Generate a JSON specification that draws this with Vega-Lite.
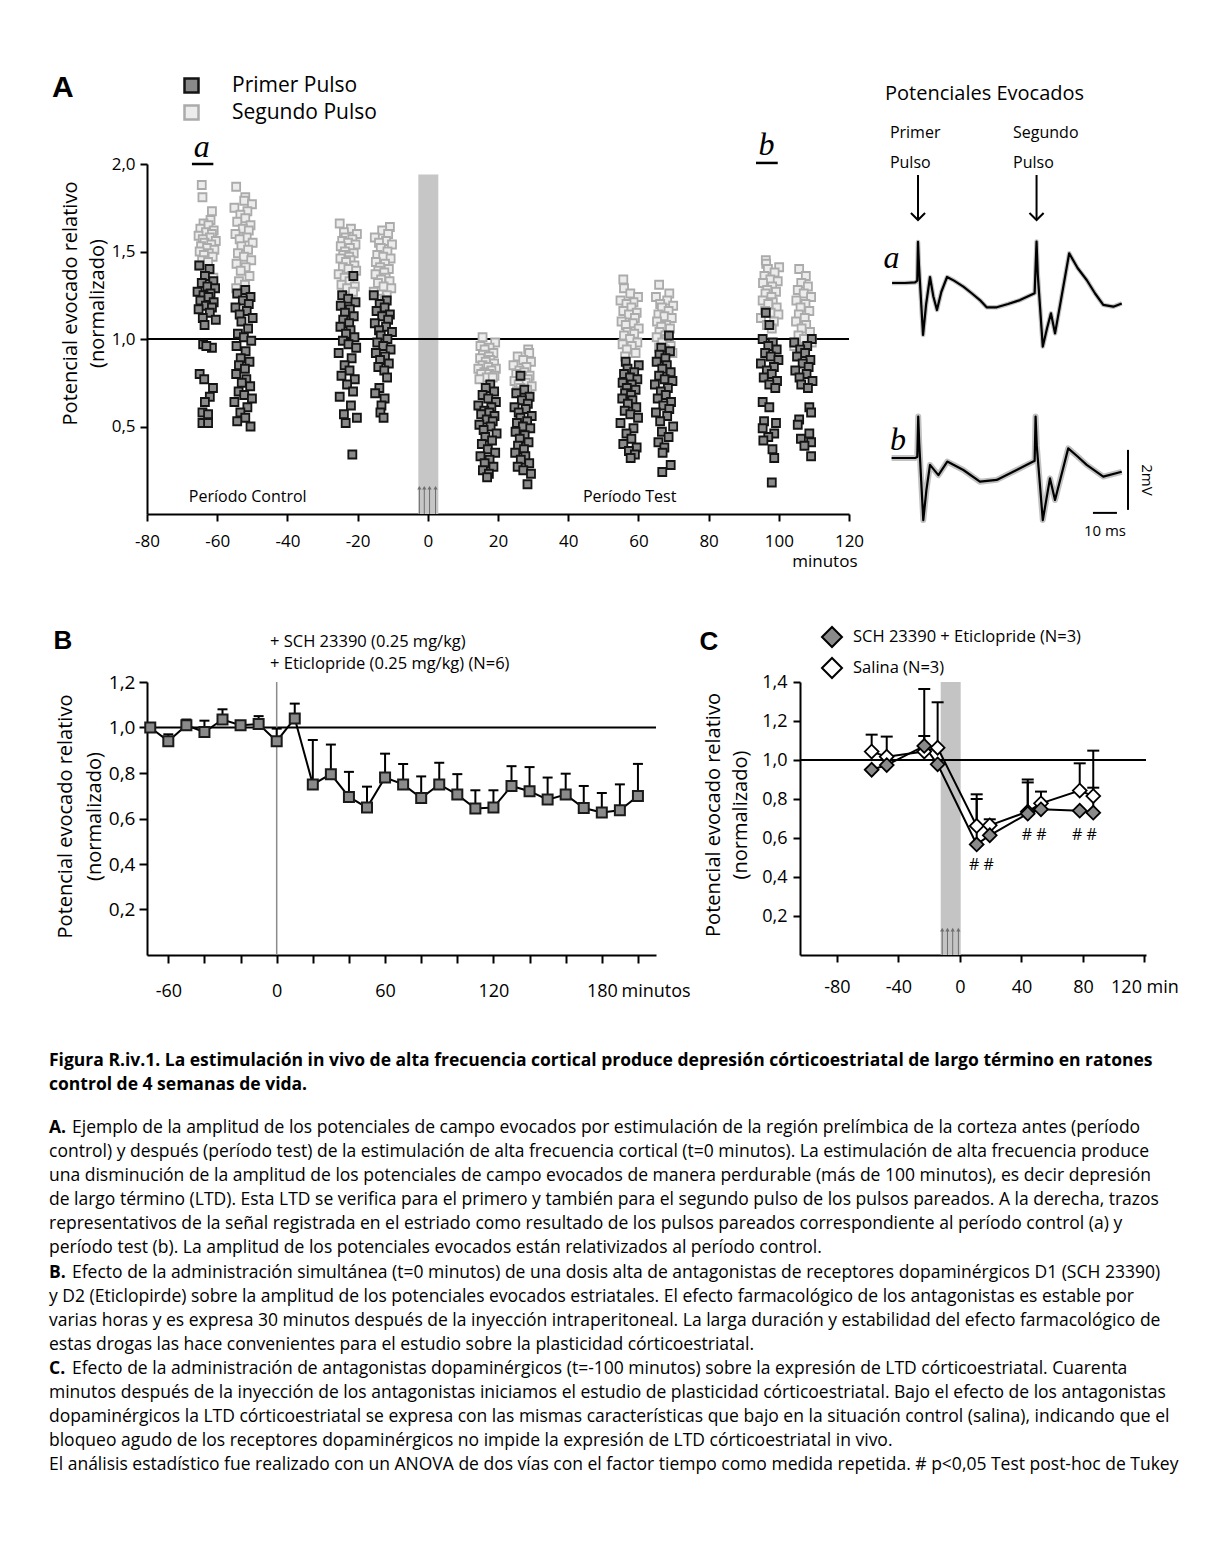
{
"$schema": "https://vega.github.io/schema/vega-lite/v6.json",
"autosize": {"type": "none"},
"padding": {"left": 147, "top": 164, "right": 1066, "bottom": 1383},
"background": "white",
"columns": 2,
"bounds": "flush",
"align": "all",
"spacing": {"row": 168, "column": 0},
"resolve": {"scale": {"fill": "independent", "stroke": "independent"}, "legend": {"fill": "independent", "stroke": "independent"}},
"config": {
 "view": {"stroke": null},
 "font": "Open Sans",
 "axis": {"grid": false, "domainColor": "black", "domainWidth": 2, "tickColor": "black", "tickWidth": 2, "labelColor": "black", "labelFont": "Open Sans", "titleFont": "Open Sans", "titleFontWeight": "normal", "titleColor": "black", "labelFlush": false, "labelOverlap": false},
 "legend": {"labelFont": "Open Sans", "labelColor": "black", "labelLimit": 400},
 "text": {"color": "black", "font": "Open Sans"}
},
"datasets": {
 "pri": [
{"t":-65.1,"v":1.42},{"t":-62.2,"v":1.40},{"t":-63.5,"v":1.36},{"t":-61.1,"v":1.33},{"t":-64.4,"v":1.32},{"t":-62.8,"v":1.30},{"t":-60.6,"v":1.29},{"t":-65.6,"v":1.27},{"t":-61.9,"v":1.26},{"t":-63.9,"v":1.25},{"t":-62.5,"v":1.24},{"t":-64.8,"v":1.22},{"t":-61.0,"v":1.21},{"t":-63.2,"v":1.19},{"t":-61.5,"v":1.18},{"t":-65.3,"v":1.17},{"t":-62.1,"v":1.15},{"t":-64.1,"v":1.12},{"t":-60.4,"v":1.11},{"t":-63.6,"v":1.08},{"t":-64.0,"v":0.97},{"t":-61.5,"v":0.95},{"t":-63.1,"v":0.96},{"t":-65.0,"v":0.80},{"t":-63.7,"v":0.77},{"t":-61.2,"v":0.72},{"t":-62.1,"v":0.67},{"t":-63.5,"v":0.64},{"t":-64.2,"v":0.58},{"t":-62.6,"v":0.57},{"t":-64.2,"v":0.52},{"t":-62.6,"v":0.52},
{"t":-52.0,"v":1.28},{"t":-54.3,"v":1.26},{"t":-50.5,"v":1.24},{"t":-52.7,"v":1.22},{"t":-51.0,"v":1.20},{"t":-54.8,"v":1.18},{"t":-51.6,"v":1.16},{"t":-53.6,"v":1.14},{"t":-49.9,"v":1.12},{"t":-53.1,"v":1.10},{"t":-51.2,"v":1.06},{"t":-54.1,"v":1.03},{"t":-52.4,"v":1.01},{"t":-50.3,"v":0.99},{"t":-54.5,"v":0.96},{"t":-51.9,"v":0.93},{"t":-53.3,"v":0.89},{"t":-50.8,"v":0.87},{"t":-53.8,"v":0.85},{"t":-52.1,"v":0.83},{"t":-54.6,"v":0.80},{"t":-51.7,"v":0.77},{"t":-53.0,"v":0.75},{"t":-50.6,"v":0.73},{"t":-53.9,"v":0.70},{"t":-52.3,"v":0.68},{"t":-50.1,"v":0.66},{"t":-55.1,"v":0.64},{"t":-51.4,"v":0.61},{"t":-53.4,"v":0.58},{"t":-52.0,"v":0.55},{"t":-54.3,"v":0.53},{"t":-50.5,"v":0.50},
{"t":-21.2,"v":1.36},{"t":-24.4,"v":1.25},{"t":-22.7,"v":1.23},{"t":-20.6,"v":1.21},{"t":-24.8,"v":1.19},{"t":-22.2,"v":1.17},{"t":-23.6,"v":1.15},{"t":-21.1,"v":1.13},{"t":-24.1,"v":1.11},{"t":-22.4,"v":1.09},{"t":-24.9,"v":1.07},{"t":-22.0,"v":1.05},{"t":-23.3,"v":1.03},{"t":-20.9,"v":1.01},{"t":-24.2,"v":0.99},{"t":-22.6,"v":0.97},{"t":-20.4,"v":0.95},{"t":-25.4,"v":0.92},{"t":-21.7,"v":0.89},{"t":-23.7,"v":0.85},{"t":-22.3,"v":0.82},{"t":-24.6,"v":0.79},{"t":-20.8,"v":0.77},{"t":-23.0,"v":0.74},{"t":-21.3,"v":0.70},{"t":-25.1,"v":0.67},{"t":-21.9,"v":0.62},{"t":-23.9,"v":0.57},{"t":-20.2,"v":0.55},{"t":-23.4,"v":0.52},{"t":-21.5,"v":0.34},
{"t":-15.4,"v":1.25},{"t":-11.7,"v":1.22},{"t":-13.7,"v":1.20},{"t":-12.3,"v":1.18},{"t":-14.6,"v":1.16},{"t":-10.8,"v":1.14},{"t":-13.0,"v":1.13},{"t":-11.3,"v":1.11},{"t":-15.1,"v":1.09},{"t":-11.9,"v":1.07},{"t":-13.9,"v":1.05},{"t":-10.2,"v":1.04},{"t":-13.4,"v":1.02},{"t":-11.5,"v":1.00},{"t":-14.4,"v":0.98},{"t":-12.7,"v":0.96},{"t":-10.6,"v":0.94},{"t":-14.8,"v":0.92},{"t":-12.2,"v":0.90},{"t":-13.6,"v":0.88},{"t":-11.1,"v":0.86},{"t":-14.1,"v":0.84},{"t":-12.4,"v":0.82},{"t":-11.6,"v":0.78},{"t":-13.8,"v":0.72},{"t":-15.0,"v":0.69},{"t":-12.3,"v":0.66},{"t":-13.2,"v":0.62},{"t":-13.5,"v":0.58},{"t":-12.6,"v":0.55},
{"t":17.8,"v":0.74},{"t":16.5,"v":0.72},{"t":18.9,"v":0.70},{"t":15.6,"v":0.68},{"t":17.2,"v":0.66},{"t":19.4,"v":0.64},{"t":14.4,"v":0.62},{"t":18.1,"v":0.61},{"t":16.1,"v":0.59},{"t":17.5,"v":0.58},{"t":15.2,"v":0.57},{"t":19.0,"v":0.56},{"t":16.8,"v":0.54},{"t":18.5,"v":0.53},{"t":14.7,"v":0.51},{"t":17.9,"v":0.50},{"t":15.9,"v":0.48},{"t":19.6,"v":0.46},{"t":16.4,"v":0.44},{"t":18.3,"v":0.42},{"t":15.4,"v":0.40},{"t":17.1,"v":0.37},{"t":19.2,"v":0.35},{"t":15.0,"v":0.33},{"t":17.6,"v":0.31},{"t":16.2,"v":0.29},{"t":18.7,"v":0.27},{"t":15.7,"v":0.25},{"t":17.4,"v":0.23},{"t":16.9,"v":0.21},
{"t":26.4,"v":0.79},{"t":27.5,"v":0.71},{"t":25.2,"v":0.69},{"t":29.0,"v":0.67},{"t":26.8,"v":0.65},{"t":28.5,"v":0.63},{"t":24.7,"v":0.61},{"t":27.9,"v":0.60},{"t":25.9,"v":0.58},{"t":29.6,"v":0.56},{"t":26.4,"v":0.55},{"t":28.3,"v":0.53},{"t":25.4,"v":0.52},{"t":27.1,"v":0.50},{"t":29.2,"v":0.49},{"t":25.0,"v":0.47},{"t":27.6,"v":0.45},{"t":26.2,"v":0.43},{"t":28.7,"v":0.41},{"t":25.7,"v":0.39},{"t":27.4,"v":0.37},{"t":24.9,"v":0.35},{"t":27.8,"v":0.33},{"t":26.5,"v":0.31},{"t":28.9,"v":0.29},{"t":25.6,"v":0.27},{"t":27.2,"v":0.25},{"t":29.4,"v":0.23},{"t":28.4,"v":0.17},
{"t":56.4,"v":0.87},{"t":60.1,"v":0.85},{"t":56.9,"v":0.83},{"t":58.8,"v":0.81},{"t":55.9,"v":0.80},{"t":57.6,"v":0.78},{"t":59.7,"v":0.77},{"t":55.5,"v":0.75},{"t":58.1,"v":0.74},{"t":56.7,"v":0.72},{"t":59.2,"v":0.71},{"t":56.2,"v":0.69},{"t":57.9,"v":0.68},{"t":55.4,"v":0.66},{"t":58.3,"v":0.65},{"t":57.0,"v":0.63},{"t":59.4,"v":0.61},{"t":56.1,"v":0.59},{"t":57.7,"v":0.57},{"t":59.9,"v":0.55},{"t":54.9,"v":0.52},{"t":58.6,"v":0.49},{"t":56.6,"v":0.46},{"t":58.0,"v":0.43},{"t":55.7,"v":0.40},{"t":59.5,"v":0.38},{"t":57.3,"v":0.36},{"t":59.0,"v":0.34},{"t":57.8,"v":0.32},
{"t":68.7,"v":1.02},{"t":66.5,"v":0.95},{"t":69.0,"v":0.93},{"t":66.0,"v":0.91},{"t":67.7,"v":0.89},{"t":65.2,"v":0.87},{"t":68.1,"v":0.85},{"t":66.8,"v":0.83},{"t":69.2,"v":0.81},{"t":65.9,"v":0.79},{"t":67.5,"v":0.77},{"t":69.7,"v":0.76},{"t":64.7,"v":0.74},{"t":68.4,"v":0.72},{"t":66.4,"v":0.70},{"t":67.8,"v":0.68},{"t":65.5,"v":0.66},{"t":69.3,"v":0.64},{"t":67.1,"v":0.62},{"t":68.8,"v":0.60},{"t":65.0,"v":0.58},{"t":68.2,"v":0.56},{"t":66.2,"v":0.53},{"t":69.9,"v":0.50},{"t":66.7,"v":0.47},{"t":68.6,"v":0.44},{"t":65.7,"v":0.41},{"t":67.4,"v":0.38},{"t":66.9,"v":0.35},{"t":69.2,"v":0.28},{"t":66.8,"v":0.24},
{"t":96.3,"v":1.15},{"t":97.3,"v":1.08},{"t":95.4,"v":1.00},{"t":98.3,"v":0.98},{"t":97.0,"v":0.96},{"t":99.4,"v":0.94},{"t":96.1,"v":0.92},{"t":97.7,"v":0.90},{"t":99.9,"v":0.88},{"t":94.9,"v":0.86},{"t":98.6,"v":0.84},{"t":96.6,"v":0.82},{"t":98.0,"v":0.80},{"t":95.7,"v":0.78},{"t":99.5,"v":0.76},{"t":97.3,"v":0.74},{"t":99.0,"v":0.72},{"t":95.4,"v":0.64},{"t":97.3,"v":0.61},{"t":95.8,"v":0.53},{"t":99.2,"v":0.52},{"t":95.4,"v":0.49},{"t":98.7,"v":0.46},{"t":97.0,"v":0.44},{"t":95.6,"v":0.42},{"t":98.2,"v":0.37},{"t":98.7,"v":0.32},{"t":98.0,"v":0.18},
{"t":109.4,"v":1.00},{"t":104.4,"v":0.98},{"t":108.1,"v":0.96},{"t":106.1,"v":0.94},{"t":107.5,"v":0.92},{"t":105.2,"v":0.90},{"t":109.0,"v":0.88},{"t":106.8,"v":0.86},{"t":108.5,"v":0.84},{"t":104.7,"v":0.82},{"t":107.9,"v":0.80},{"t":105.9,"v":0.78},{"t":109.6,"v":0.76},{"t":106.4,"v":0.74},{"t":108.3,"v":0.72},{"t":108.7,"v":0.61},{"t":109.2,"v":0.58},{"t":105.8,"v":0.54},{"t":105.4,"v":0.51},{"t":108.7,"v":0.46},{"t":106.3,"v":0.43},{"t":109.2,"v":0.41},{"t":107.3,"v":0.39},{"t":109.2,"v":0.33}
 ],
 "seg": [
{"t":-64.4,"v":1.88},{"t":-64.2,"v":1.81},{"t":-61.5,"v":1.73},{"t":-61.9,"v":1.68},{"t":-63.9,"v":1.66},{"t":-62.5,"v":1.65},{"t":-64.8,"v":1.63},{"t":-61.0,"v":1.62},{"t":-63.2,"v":1.61},{"t":-61.5,"v":1.60},{"t":-65.3,"v":1.59},{"t":-62.1,"v":1.58},{"t":-64.1,"v":1.57},{"t":-60.4,"v":1.56},{"t":-63.6,"v":1.55},{"t":-61.7,"v":1.54},{"t":-64.6,"v":1.53},{"t":-62.9,"v":1.52},{"t":-60.8,"v":1.51},{"t":-65.0,"v":1.50},{"t":-62.4,"v":1.49},{"t":-63.8,"v":1.48},{"t":-61.3,"v":1.47},{"t":-64.3,"v":1.45},{"t":-62.6,"v":1.44},{"t":-65.1,"v":1.42},{"t":-62.2,"v":1.40},{"t":-63.5,"v":1.38},{"t":-61.1,"v":1.35},
{"t":-54.6,"v":1.87},{"t":-52.0,"v":1.81},{"t":-52.3,"v":1.79},{"t":-50.1,"v":1.77},{"t":-55.1,"v":1.75},{"t":-51.4,"v":1.73},{"t":-53.4,"v":1.71},{"t":-52.0,"v":1.69},{"t":-54.3,"v":1.67},{"t":-50.5,"v":1.65},{"t":-52.7,"v":1.63},{"t":-51.0,"v":1.62},{"t":-54.8,"v":1.60},{"t":-51.6,"v":1.58},{"t":-53.6,"v":1.57},{"t":-49.9,"v":1.55},{"t":-53.1,"v":1.53},{"t":-51.2,"v":1.51},{"t":-54.1,"v":1.49},{"t":-52.4,"v":1.47},{"t":-50.3,"v":1.45},{"t":-54.5,"v":1.43},{"t":-51.9,"v":1.41},{"t":-53.3,"v":1.39},{"t":-50.8,"v":1.36},{"t":-53.8,"v":1.33},{"t":-52.1,"v":1.31},{"t":-54.6,"v":1.29},
{"t":-25.1,"v":1.66},{"t":-21.9,"v":1.63},{"t":-23.9,"v":1.61},{"t":-20.2,"v":1.60},{"t":-23.4,"v":1.58},{"t":-21.5,"v":1.57},{"t":-24.4,"v":1.56},{"t":-22.7,"v":1.55},{"t":-20.6,"v":1.54},{"t":-24.8,"v":1.53},{"t":-22.2,"v":1.52},{"t":-23.6,"v":1.50},{"t":-21.1,"v":1.49},{"t":-24.1,"v":1.48},{"t":-22.4,"v":1.47},{"t":-24.9,"v":1.46},{"t":-22.0,"v":1.45},{"t":-23.3,"v":1.44},{"t":-20.9,"v":1.42},{"t":-24.2,"v":1.41},{"t":-22.6,"v":1.40},{"t":-20.4,"v":1.39},{"t":-25.4,"v":1.37},{"t":-21.7,"v":1.36},{"t":-23.7,"v":1.35},{"t":-22.3,"v":1.33},{"t":-24.6,"v":1.31},{"t":-20.8,"v":1.30},{"t":-23.0,"v":1.29},{"t":-21.3,"v":1.27},
{"t":-10.8,"v":1.64},{"t":-13.0,"v":1.62},{"t":-11.3,"v":1.60},{"t":-15.1,"v":1.58},{"t":-11.9,"v":1.56},{"t":-13.9,"v":1.55},{"t":-10.2,"v":1.54},{"t":-13.4,"v":1.52},{"t":-11.5,"v":1.50},{"t":-14.4,"v":1.48},{"t":-12.7,"v":1.47},{"t":-10.6,"v":1.46},{"t":-14.8,"v":1.44},{"t":-12.2,"v":1.43},{"t":-13.6,"v":1.41},{"t":-11.1,"v":1.40},{"t":-14.1,"v":1.39},{"t":-12.4,"v":1.38},{"t":-14.9,"v":1.37},{"t":-12.0,"v":1.35},{"t":-13.3,"v":1.34},{"t":-10.9,"v":1.33},{"t":-14.2,"v":1.32},{"t":-12.6,"v":1.30},{"t":-10.4,"v":1.29},{"t":-15.4,"v":1.27},{"t":-11.7,"v":1.25},{"t":-13.7,"v":1.23},{"t":-12.3,"v":1.22},
{"t":15.6,"v":1.01},{"t":19.2,"v":0.98},{"t":15.0,"v":0.96},{"t":17.6,"v":0.95},{"t":16.2,"v":0.94},{"t":18.7,"v":0.92},{"t":15.7,"v":0.91},{"t":17.4,"v":0.90},{"t":14.9,"v":0.89},{"t":17.8,"v":0.88},{"t":16.5,"v":0.87},{"t":18.9,"v":0.86},{"t":15.6,"v":0.85},{"t":17.2,"v":0.84},{"t":19.4,"v":0.83},{"t":14.4,"v":0.83},{"t":18.1,"v":0.82},{"t":16.1,"v":0.81},{"t":17.5,"v":0.80},{"t":15.2,"v":0.80},{"t":19.0,"v":0.79},{"t":16.8,"v":0.78},{"t":18.5,"v":0.78},{"t":14.7,"v":0.77},
{"t":28.6,"v":0.94},{"t":28.9,"v":0.92},{"t":25.6,"v":0.90},{"t":27.2,"v":0.88},{"t":29.4,"v":0.87},{"t":24.4,"v":0.85},{"t":28.1,"v":0.84},{"t":26.1,"v":0.82},{"t":27.5,"v":0.81},{"t":25.2,"v":0.80},{"t":29.0,"v":0.79},{"t":26.8,"v":0.78},{"t":28.5,"v":0.77},{"t":24.7,"v":0.76},{"t":27.9,"v":0.75},{"t":25.9,"v":0.74},{"t":29.6,"v":0.73},{"t":26.4,"v":0.72},{"t":28.3,"v":0.71},{"t":25.4,"v":0.70},
{"t":55.7,"v":1.34},{"t":55.9,"v":1.29},{"t":57.7,"v":1.26},{"t":59.9,"v":1.24},{"t":54.9,"v":1.22},{"t":58.6,"v":1.21},{"t":56.6,"v":1.20},{"t":58.0,"v":1.18},{"t":55.7,"v":1.16},{"t":59.5,"v":1.15},{"t":57.3,"v":1.14},{"t":59.0,"v":1.12},{"t":55.2,"v":1.10},{"t":58.4,"v":1.09},{"t":56.4,"v":1.08},{"t":60.1,"v":1.06},{"t":56.9,"v":1.04},{"t":58.8,"v":1.03},{"t":55.9,"v":1.02},{"t":57.6,"v":1.00},{"t":59.7,"v":0.98},{"t":55.5,"v":0.97},{"t":58.1,"v":0.96},{"t":56.7,"v":0.94},{"t":59.2,"v":0.92},{"t":56.2,"v":0.90},
{"t":65.9,"v":1.31},{"t":68.8,"v":1.26},{"t":65.0,"v":1.24},{"t":68.2,"v":1.22},{"t":66.2,"v":1.20},{"t":69.9,"v":1.19},{"t":66.7,"v":1.18},{"t":68.6,"v":1.16},{"t":65.7,"v":1.14},{"t":67.4,"v":1.13},{"t":69.5,"v":1.12},{"t":65.3,"v":1.10},{"t":67.9,"v":1.08},{"t":66.5,"v":1.07},{"t":69.0,"v":1.06},{"t":66.0,"v":1.04},{"t":67.7,"v":1.02},{"t":65.2,"v":1.01},{"t":68.1,"v":1.00},{"t":66.8,"v":0.98},{"t":69.2,"v":0.96},{"t":65.9,"v":0.95},{"t":67.5,"v":0.94},{"t":69.7,"v":0.92},
{"t":96.3,"v":1.45},{"t":96.4,"v":1.43},{"t":100.1,"v":1.41},{"t":96.9,"v":1.40},{"t":98.8,"v":1.38},{"t":95.9,"v":1.36},{"t":97.6,"v":1.34},{"t":99.7,"v":1.33},{"t":95.5,"v":1.32},{"t":98.1,"v":1.30},{"t":96.7,"v":1.28},{"t":99.2,"v":1.27},{"t":96.2,"v":1.26},{"t":97.9,"v":1.24},{"t":95.4,"v":1.22},{"t":98.3,"v":1.21},{"t":97.0,"v":1.20},{"t":99.4,"v":1.18},{"t":96.1,"v":1.16},{"t":97.7,"v":1.15},{"t":99.9,"v":1.14},{"t":94.9,"v":1.12},{"t":98.6,"v":1.10},{"t":96.6,"v":1.08},{"t":98.0,"v":1.06},
{"t":105.8,"v":1.40},{"t":107.7,"v":1.36},{"t":106.4,"v":1.32},{"t":108.3,"v":1.30},{"t":105.4,"v":1.28},{"t":107.1,"v":1.26},{"t":109.2,"v":1.24},{"t":105.0,"v":1.22},{"t":107.6,"v":1.20},{"t":106.2,"v":1.18},{"t":108.7,"v":1.16},{"t":105.7,"v":1.14},{"t":107.4,"v":1.12},{"t":104.9,"v":1.10},{"t":107.8,"v":1.08},{"t":106.5,"v":1.06},{"t":108.9,"v":1.04},{"t":105.6,"v":1.02},{"t":107.2,"v":1.00},{"t":109.4,"v":0.98},{"t":104.4,"v":0.96}
 ],
 "ta": [{"t":-10.8,"v":0},{"t":-5.4,"v":0},{"t":-1.2,"v":0.02},{"t":-0.3,"v":0.08},{"t":0,"v":1.37},{"t":0.4,"v":0.6},{"t":2.1,"v":-1.73},{"t":3.4,"v":-0.7},{"t":5.0,"v":0.2},{"t":6.4,"v":-0.45},{"t":7.9,"v":-0.9},{"t":9.7,"v":-0.3},{"t":12.1,"v":0.2},{"t":15.0,"v":0.08},{"t":18.9,"v":-0.12},{"t":22.5,"v":-0.35},{"t":25.8,"v":-0.57},{"t":28.6,"v":-0.81},{"t":32.8,"v":-0.81},{"t":37.5,"v":-0.7},{"t":42.5,"v":-0.57},{"t":48.6,"v":-0.34},{"t":49.4,"v":1.38},{"t":49.9,"v":0.3},{"t":52.0,"v":-2.12},{"t":53.8,"v":-1.5},{"t":55.4,"v":-1.01},{"t":57.1,"v":-1.68},{"t":59.5,"v":-0.6},{"t":63.0,"v":0.99},{"t":66.5,"v":0.5},{"t":70.3,"v":0.1},{"t":73.8,"v":-0.35},{"t":77.2,"v":-0.73},{"t":81.4,"v":-0.79},{"t":84.9,"v":-0.68}],
 "tb": [{"t":-11.0,"v":0},{"t":-1.2,"v":0},{"t":-0.3,"v":0.03},{"t":0.1,"v":1.38},{"t":0.5,"v":0.5},{"t":2.2,"v":-2.07},{"t":3.5,"v":-1.07},{"t":5.0,"v":-0.23},{"t":8.5,"v":-0.57},{"t":12.2,"v":-0.12},{"t":18.9,"v":-0.4},{"t":25.8,"v":-0.79},{"t":32.8,"v":-0.73},{"t":41.1,"v":-0.4},{"t":48.0,"v":-0.12},{"t":48.6,"v":-0.1},{"t":49.0,"v":1.38},{"t":49.5,"v":0.4},{"t":52.0,"v":-2.07},{"t":55.0,"v":-0.68},{"t":57.1,"v":-1.4},{"t":62.6,"v":0.32},{"t":66.5,"v":0.05},{"t":70.3,"v":-0.23},{"t":77.2,"v":-0.62},{"t":84.9,"v":-0.46}],
 "b": [{"t":-70,"v":1.0},{"t":-60,"v":0.94,"hi":0.97},{"t":-50,"v":1.01,"hi":1.035},{"t":-40,"v":0.98,"hi":1.03},{"t":-30,"v":1.035,"hi":1.08},{"t":-20,"v":1.01},{"t":-10,"v":1.015,"hi":1.05},{"t":0,"v":0.94,"hi":0.995},{"t":10,"v":1.04,"hi":1.105},{"t":20,"v":0.75,"hi":0.945},{"t":30,"v":0.795,"hi":0.925},{"t":40,"v":0.695,"hi":0.805},{"t":50,"v":0.648,"hi":0.74},{"t":60,"v":0.78,"hi":0.885},{"t":70,"v":0.75,"hi":0.84},{"t":80,"v":0.69,"hi":0.785},{"t":90,"v":0.75,"hi":0.845},{"t":100,"v":0.705,"hi":0.795},{"t":110,"v":0.644,"hi":0.724},{"t":120,"v":0.648,"hi":0.724},{"t":130,"v":0.743,"hi":0.83},{"t":140,"v":0.72,"hi":0.826},{"t":150,"v":0.683,"hi":0.78},{"t":160,"v":0.705,"hi":0.797},{"t":170,"v":0.646,"hi":0.743},{"t":180,"v":0.626,"hi":0.712},{"t":190,"v":0.636,"hi":0.75},{"t":200,"v":0.699,"hi":0.84}],
 "c": [
{"g":"Salina (N=3)","t":-57.4,"v":1.043,"hi":1.13},{"g":"Salina (N=3)","t":-47.6,"v":1.017,"hi":1.12},{"g":"Salina (N=3)","t":-23.2,"v":1.043,"hi":1.123},{"g":"Salina (N=3)","t":-14.5,"v":1.063,"hi":1.296},{"g":"Salina (N=3)","t":10.9,"v":0.662,"hi":0.824},{"g":"Salina (N=3)","t":19.4,"v":0.665,"hi":0.696},{"g":"Salina (N=3)","t":44.1,"v":0.735,"hi":0.9},{"g":"Salina (N=3)","t":52.7,"v":0.778,"hi":0.838},{"g":"Salina (N=3)","t":77.9,"v":0.843,"hi":0.983},{"g":"Salina (N=3)","t":86.7,"v":0.815,"hi":1.048},
{"g":"SCH 23390 + Eticlopride (N=3)","t":-57.4,"v":0.95},{"g":"SCH 23390 + Eticlopride (N=3)","t":-47.6,"v":0.974},{"g":"SCH 23390 + Eticlopride (N=3)","t":-23.2,"v":1.072,"hi":1.364},{"g":"SCH 23390 + Eticlopride (N=3)","t":-14.5,"v":0.978},{"g":"SCH 23390 + Eticlopride (N=3)","t":10.9,"v":0.567,"hi":0.8},{"g":"SCH 23390 + Eticlopride (N=3)","t":19.4,"v":0.614},{"g":"SCH 23390 + Eticlopride (N=3)","t":44.1,"v":0.725,"hi":0.885},{"g":"SCH 23390 + Eticlopride (N=3)","t":52.7,"v":0.747},{"g":"SCH 23390 + Eticlopride (N=3)","t":77.9,"v":0.74},{"g":"SCH 23390 + Eticlopride (N=3)","t":86.7,"v":0.73,"hi":0.858}
 ],
 "cap": [
{"linea":1,"tipo":"titulo","txt":"Figura R.iv.1. La estimulación in vivo de alta frecuencia cortical produce depresión córticoestriatal de largo término en ratones"},
{"linea":2,"tipo":"titulo","txt":"control de 4 semanas de vida."},
{"linea":3.78,"tipo":"cuerpo","pre":"A.","txt":"Ejemplo de la amplitud de los potenciales de campo evocados por estimulación de la región prelímbica de la corteza antes (período"},
{"linea":4.78,"tipo":"cuerpo","txt":"control) y después (período test) de la estimulación de alta frecuencia cortical (t=0 minutos). La estimulación de alta frecuencia produce"},
{"linea":5.78,"tipo":"cuerpo","txt":"una disminución de la amplitud de los potenciales de campo evocados de manera perdurable (más de 100 minutos), es decir depresión"},
{"linea":6.78,"tipo":"cuerpo","txt":"de largo término (LTD). Esta LTD se verifica para el primero y también para el segundo pulso de los pulsos pareados. A la derecha, trazos"},
{"linea":7.78,"tipo":"cuerpo","txt":"representativos de la señal registrada en el estriado como resultado de los pulsos pareados correspondiente al período control (a) y"},
{"linea":8.78,"tipo":"cuerpo","txt":"período test (b). La amplitud de los potenciales evocados están relativizados al período control."},
{"linea":9.78,"tipo":"cuerpo","pre":"B.","txt":"Efecto de la administración simultánea (t=0 minutos) de una dosis alta de antagonistas de receptores dopaminérgicos D1 (SCH 23390)"},
{"linea":10.78,"tipo":"cuerpo","txt":"y D2 (Eticlopirde) sobre la amplitud de los potenciales evocados estriatales. El efecto farmacológico de los antagonistas es estable por"},
{"linea":11.78,"tipo":"cuerpo","txt":"varias horas y es expresa 30 minutos después de la inyección intraperitoneal. La larga duración y estabilidad del efecto farmacológico de"},
{"linea":12.78,"tipo":"cuerpo","txt":"estas drogas las hace convenientes para el estudio sobre la plasticidad córticoestriatal."},
{"linea":13.78,"tipo":"cuerpo","pre":"C.","txt":"Efecto de la administración de antagonistas dopaminérgicos (t=-100 minutos) sobre la expresión de LTD córticoestriatal. Cuarenta"},
{"linea":14.78,"tipo":"cuerpo","txt":"minutos después de la inyección de los antagonistas iniciamos el estudio de plasticidad córticoestriatal. Bajo el efecto de los antagonistas"},
{"linea":15.78,"tipo":"cuerpo","txt":"dopaminérgicos la LTD córticoestriatal se expresa con las mismas características que bajo en la situación control (salina), indicando que el"},
{"linea":16.78,"tipo":"cuerpo","txt":"bloqueo agudo de los receptores dopaminérgicos no impide la expresión de LTD córticoestriatal in vivo."},
{"linea":17.78,"tipo":"cuerpo","txt":"El análisis estadístico fue realizado con un ANOVA de dos vías con el factor tiempo como medida repetida. # p<0,05 Test post-hoc de Tukey"}
 ]
},
"concat": [
 {
  "width": 653, "height": 350,
  "encoding": {
   "x": {"field": "t", "type": "quantitative", "scale": {"domain": [-80, 120], "range": [0, 702], "nice": false, "zero": false},
    "axis": {"values": [-80,-60,-40,-20,0,20,40,60,80,100,120], "labelExpr": "replace(datum.label, '−', '-')", "labelFontSize": 17, "labelPadding": 12, "tickSize": 7, "title": "minutos", "titleFontSize": 17, "titleX": 710, "titleY": 47, "titleAlign": "right", "titleBaseline": "middle"}},
   "y": {"field": "v", "type": "quantitative", "scale": {"domain": [0, 2], "nice": false, "zero": false},
    "axis": {"values": [0.5, 1, 1.5, 2], "labelExpr": "replace(format(datum.value, '.1f'), '.', ',')", "labelFontSize": 17, "labelPadding": 5, "tickSize": 7, "title": ["Potencial evocado relativo", "(normalizado)"], "titleFontSize": 20, "titleLineHeight": 27, "titleX": -77, "titleY": 139, "titleAngle": 270, "titleAlign": "center", "titleBaseline": "middle"}}
  },
  "layer": [
   {"data": {"values": [{"t": -2.7, "t2": 3.0, "v": 0, "v2": 1.94}]}, "mark": {"type": "rect", "color": "#c6c6c6"}, "encoding": {"x2": {"field": "t2"}, "y2": {"field": "v2"}}},
   {"data": {"values": [{"t": -2.4, "v": 0, "v2": 0.15}, {"t": -1.0, "v": 0, "v2": 0.15}, {"t": 0.5, "v": 0, "v2": 0.15}, {"t": 2.2, "v": 0, "v2": 0.15}]}, "mark": {"type": "rule", "color": "#6e6e6e", "strokeWidth": 1}, "encoding": {"y2": {"field": "v2"}}},
   {"data": {"values": [{"t": -2.4, "v2": 0.15}, {"t": -1.0, "v2": 0.15}, {"t": 0.5, "v2": 0.15}, {"t": 2.2, "v2": 0.15}]}, "mark": {"type": "point", "shape": "triangle-up", "size": 18, "filled": true, "color": "#6e6e6e", "opacity": 1}, "encoding": {"y": {"field": "v2", "type": "quantitative"}}},
   {"data": {"values": [{"t": -80, "t2": 120, "v": 1}]}, "mark": {"type": "rule", "color": "black", "strokeWidth": 2}, "encoding": {"x2": {"field": "t2"}}},
   {"data": {"name": "seg"}, "mark": {"type": "point", "shape": "square", "size": 64, "filled": true, "strokeWidth": 1.8, "opacity": 1},
    "encoding": {
     "fill": {"datum": "Segundo Pulso", "type": "nominal", "scale": {"domain": ["Primer Pulso", "Segundo Pulso"], "range": ["#8a8a8a", "#ececec"]}, "legend": {"title": null, "orient": "none", "legendX": 34, "legendY": -89, "symbolType": "square", "symbolSize": 196, "symbolStrokeWidth": 2.5, "labelFontSize": 21, "labelOffset": 30, "rowPadding": 2, "padding": 0}},
     "stroke": {"datum": "Segundo Pulso", "type": "nominal", "scale": {"domain": ["Primer Pulso", "Segundo Pulso"], "range": ["#141414", "#ababab"]}, "legend": {"title": null, "orient": "none", "legendX": 34, "legendY": -89, "symbolType": "square", "symbolSize": 196, "symbolStrokeWidth": 2.5, "labelFontSize": 21, "labelOffset": 30, "rowPadding": 2, "padding": 0}}
    }},
   {"data": {"name": "pri"}, "mark": {"type": "point", "shape": "square", "size": 64, "filled": true, "strokeWidth": 1.8, "opacity": 1},
    "encoding": {
     "fill": {"datum": "Primer Pulso", "type": "nominal", "scale": {"domain": ["Primer Pulso", "Segundo Pulso"], "range": ["#8a8a8a", "#ececec"]}},
     "stroke": {"datum": "Primer Pulso", "type": "nominal", "scale": {"domain": ["Primer Pulso", "Segundo Pulso"], "range": ["#141414", "#ababab"]}}
    }},
   {"data": {"values": [{"t": -51.3, "v": 0.099, "txt": "Período Control"}, {"t": 57.5, "v": 0.099, "txt": "Período Test"}]}, "mark": {"type": "text", "fontSize": 16, "align": "center", "baseline": "middle"}, "encoding": {"text": {"field": "txt"}}},
   {"data": {"values": [{"t": -64.4, "v": 2.042, "txt": "a"}, {"t": 96.5, "v": 2.05, "txt": "b"}]}, "mark": {"type": "text", "font": "Liberation Serif", "fontStyle": "italic", "fontSize": 32, "align": "center", "baseline": "alphabetic"}, "encoding": {"text": {"field": "txt"}}},
   {"data": {"values": [{"t": -67.2, "t2": -61.1, "v": 2.0}, {"t": 93.5, "t2": 99.7, "v": 2.006}]}, "mark": {"type": "rule", "color": "black", "strokeWidth": 2.5}, "encoding": {"x2": {"field": "t2"}}},
   {"data": {"values": [{"t": -104, "v": 2.383, "txt": "A"}]}, "mark": {"type": "text", "font": "Liberation Sans", "fontWeight": "bold", "fontSize": 30, "align": "center", "baseline": "alphabetic"}, "encoding": {"text": {"field": "txt"}}}
  ]
 },
 {
  "width": 200, "height": 350,
  "resolve": {"scale": {"y": "independent"}},
  "layer": [
   {
    "encoding": {
     "x": {"field": "t", "type": "quantitative", "scale": {"domain": [-49.17, 34.17], "nice": false, "zero": false}, "axis": null},
     "y": {"field": "v", "type": "quantitative", "scale": {"domain": [-7.7, 3.967], "nice": false, "zero": false}, "axis": null}
    },
    "layer": [
     {"data": {"name": "ta"}, "mark": {"type": "line", "color": "#c2c2c2", "strokeWidth": 4.5, "strokeJoin": "round"}},
     {"data": {"name": "ta"}, "mark": {"type": "line", "color": "black", "strokeWidth": 2.2, "strokeJoin": "round"}},
     {"data": {"values": [{"t": -13.75, "v": 6.3, "txt": "Potenciales Evocados"}]}, "mark": {"type": "text", "fontSize": 20, "align": "left", "baseline": "middle"}, "encoding": {"text": {"field": "txt"}}},
     {"data": {"values": [{"t": -11.7, "v": 5.0, "txt": "Primer"}, {"t": -11.7, "v": 4.0, "txt": "Pulso"}, {"t": 39.6, "v": 5.0, "txt": "Segundo"}, {"t": 39.6, "v": 4.0, "txt": "Pulso"}]}, "mark": {"type": "text", "fontSize": 16, "align": "left", "baseline": "middle"}, "encoding": {"text": {"field": "txt"}}},
     {"data": {"values": [{"t": 0, "v": 3.6, "v2": 2.12}, {"t": 49.4, "v": 3.6, "v2": 2.12}]}, "mark": {"type": "rule", "color": "black", "strokeWidth": 2}, "encoding": {"y2": {"field": "v2"}}},
     {"data": {"values": [{"t": 0, "v": 2.1}, {"t": 49.4, "v": 2.1}]}, "mark": {"type": "point", "shape": "M-1,-1L0,0L1,-1", "size": 200, "filled": false, "color": "black", "strokeWidth": 2, "opacity": 1}},
     {"data": {"values": [{"t": -11.0, "v": 0.5, "txt": "a"}]}, "mark": {"type": "text", "font": "Liberation Serif", "fontStyle": "italic", "fontSize": 32, "align": "center", "baseline": "alphabetic"}, "encoding": {"text": {"field": "txt"}}}
    ]
   },
   {
    "encoding": {
     "x": {"field": "t", "type": "quantitative", "scale": {"domain": [-49.17, 34.17], "nice": false, "zero": false}, "axis": null},
     "y": {"field": "v", "type": "quantitative", "scale": {"domain": [-1.867, 9.8], "nice": false, "zero": false}, "axis": null}
    },
    "layer": [
     {"data": {"name": "tb"}, "mark": {"type": "line", "color": "#c2c2c2", "strokeWidth": 6, "strokeJoin": "round"}},
     {"data": {"name": "tb"}, "mark": {"type": "line", "color": "black", "strokeWidth": 2.2, "strokeJoin": "round"}},
     {"data": {"values": [{"t": -8.3, "v": 0.27, "txt": "b"}]}, "mark": {"type": "text", "font": "Liberation Serif", "fontStyle": "italic", "fontSize": 32, "align": "center", "baseline": "alphabetic"}, "encoding": {"text": {"field": "txt"}}},
     {"data": {"values": [{"t": 87.5, "v": 0.27, "v2": -1.73}]}, "mark": {"type": "rule", "color": "black", "strokeWidth": 2}, "encoding": {"y2": {"field": "v2"}}},
     {"data": {"values": [{"t": 72.9, "t2": 82.9, "v": -1.83}]}, "mark": {"type": "rule", "color": "black", "strokeWidth": 2}, "encoding": {"x2": {"field": "t2"}}},
     {"data": {"values": [{"t": 95.4, "v": -0.73, "txt": "2mV"}]}, "mark": {"type": "text", "fontSize": 15, "angle": 90, "align": "center", "baseline": "middle"}, "encoding": {"text": {"field": "txt"}}},
     {"data": {"values": [{"t": 77.9, "v": -2.45, "txt": "10 ms"}]}, "mark": {"type": "text", "fontSize": 15, "align": "center", "baseline": "middle"}, "encoding": {"text": {"field": "txt"}}}
    ]
   }
  ]
 },
 {
  "width": 509, "height": 273,
  "encoding": {
   "x": {"field": "t", "type": "quantitative", "scale": {"domain": [-71.8, 210], "nice": false, "zero": false},
    "axis": {"values": [-60,-40,-20,0,20,40,60,80,100,120,140,160,180,200], "labelExpr": "datum.value % 60 === 0 ? replace(datum.label, '−', '-') : ''", "labelFontSize": 18, "labelPadding": 19, "tickSize": 8, "title": "minutos", "titleFontSize": 18, "titleX": 474, "titleY": 36, "titleAlign": "left", "titleBaseline": "middle"}},
   "y": {"field": "v", "type": "quantitative", "scale": {"domain": [0, 1.2], "nice": false, "zero": false},
    "axis": {"values": [0.2, 0.4, 0.6, 0.8, 1, 1.2], "labelExpr": "replace(format(datum.value, '.1f'), '.', ',')", "labelFontSize": 19, "labelPadding": 4, "tickSize": 8, "title": ["Potencial evocado relativo", "(normalizado)"], "titleFontSize": 20, "titleLineHeight": 29, "titleX": -82, "titleY": 134, "titleAngle": 270, "titleAlign": "center", "titleBaseline": "middle"}}
  },
  "layer": [
   {"data": {"values": [{"t": -71.8, "t2": 210, "v": 1}]}, "mark": {"type": "rule", "color": "black", "strokeWidth": 2}, "encoding": {"x2": {"field": "t2"}}},
   {"data": {"values": [{"t": 0, "v": 0, "v2": 1.2}]}, "mark": {"type": "rule", "color": "#8c8c8c", "strokeWidth": 1.5}, "encoding": {"y2": {"field": "v2"}}},
   {"data": {"name": "b"}, "transform": [{"filter": "isValid(datum.hi)"}], "mark": {"type": "rule", "color": "black", "strokeWidth": 2}, "encoding": {"y2": {"field": "hi"}}},
   {"data": {"name": "b"}, "transform": [{"filter": "isValid(datum.hi)"}], "mark": {"type": "tick", "orient": "horizontal", "size": 10, "thickness": 2, "color": "black", "opacity": 1}, "encoding": {"y": {"field": "hi", "type": "quantitative"}}},
   {"data": {"name": "b"}, "mark": {"type": "line", "color": "black", "strokeWidth": 2}},
   {"data": {"name": "b"}, "mark": {"type": "point", "shape": "square", "size": 100, "filled": true, "fill": "#8a8a8a", "stroke": "#1a1a1a", "strokeWidth": 2, "opacity": 1}},
   {"data": {"values": [{"t": -3.7, "v": 1.378, "txt": "+ SCH 23390 (0.25 mg/kg)"}, {"t": -3.7, "v": 1.281, "txt": "+ Eticlopride (0.25 mg/kg) (N=6)"}]}, "mark": {"type": "text", "fontSize": 16.5, "align": "left", "baseline": "middle"}, "encoding": {"text": {"field": "txt"}}},
   {"data": {"values": [{"t": -118.3, "v": 1.347, "txt": "B"}]}, "mark": {"type": "text", "font": "Liberation Sans", "fontWeight": "bold", "fontSize": 26, "align": "center", "baseline": "alphabetic"}, "encoding": {"text": {"field": "txt"}}}
  ]
 },
 {
  "width": 346, "height": 273,
  "encoding": {
   "x": {"field": "t", "type": "quantitative", "scale": {"domain": [-104, 121], "nice": false, "zero": false},
    "axis": {"values": [-80, -40, 0, 40, 80, 120], "labelExpr": "datum.value === 120 ? '120 min' : replace(datum.label, '−', '-')", "labelFontSize": 18, "labelPadding": 16, "tickSize": 7, "title": null}},
   "y": {"field": "v", "type": "quantitative", "scale": {"domain": [0, 1.4], "nice": false, "zero": false},
    "axis": {"values": [0.2, 0.4, 0.6, 0.8, 1, 1.2, 1.4], "labelExpr": "replace(format(datum.value, '.1f'), '.', ',')", "labelFontSize": 18, "labelPadding": 6, "tickSize": 7, "title": ["Potencial evocado relativo", "(normalizado)"], "titleFontSize": 20, "titleLineHeight": 27, "titleX": -87, "titleY": 132.5, "titleAngle": 270, "titleAlign": "center", "titleBaseline": "middle"}}
  },
  "layer": [
   {"data": {"values": [{"t": -12.5, "t2": 0.5, "v": 0, "v2": 1.4}]}, "mark": {"type": "rect", "color": "#c4c4c4"}, "encoding": {"x2": {"field": "t2"}, "y2": {"field": "v2"}}},
   {"data": {"values": [{"t": -11.5, "v": 0, "v2": 0.13}, {"t": -8.1, "v": 0, "v2": 0.13}, {"t": -4.7, "v": 0, "v2": 0.13}, {"t": -1.0, "v": 0, "v2": 0.13}]}, "mark": {"type": "rule", "color": "#6e6e6e", "strokeWidth": 1}, "encoding": {"y2": {"field": "v2"}}},
   {"data": {"values": [{"t": -11.5, "v2": 0.13}, {"t": -8.1, "v2": 0.13}, {"t": -4.7, "v2": 0.13}, {"t": -1.0, "v2": 0.13}]}, "mark": {"type": "point", "shape": "triangle-up", "size": 18, "filled": true, "color": "#6e6e6e", "opacity": 1}, "encoding": {"y": {"field": "v2", "type": "quantitative"}}},
   {"data": {"values": [{"t": -104, "t2": 121, "v": 1}]}, "mark": {"type": "rule", "color": "black", "strokeWidth": 2}, "encoding": {"x2": {"field": "t2"}}},
   {"data": {"name": "c"}, "transform": [{"filter": "isValid(datum.hi)"}], "mark": {"type": "rule", "color": "black", "strokeWidth": 2}, "encoding": {"y2": {"field": "hi"}}},
   {"data": {"name": "c"}, "transform": [{"filter": "isValid(datum.hi)"}], "mark": {"type": "tick", "orient": "horizontal", "size": 12, "thickness": 2, "color": "black", "opacity": 1}, "encoding": {"y": {"field": "hi", "type": "quantitative"}}},
   {"data": {"name": "c"}, "mark": {"type": "line", "color": "black", "strokeWidth": 2}, "encoding": {"detail": {"field": "g", "type": "nominal"}}},
   {"data": {"name": "c"}, "mark": {"type": "point", "shape": "diamond", "size": 190, "filled": true, "stroke": "black", "strokeWidth": 1.8, "opacity": 1},
    "encoding": {"fill": {"field": "g", "type": "nominal", "scale": {"domain": ["SCH 23390 + Eticlopride (N=3)", "Salina (N=3)"], "range": ["#8a8a8a", "white"]},
      "legend": {"title": null, "orient": "none", "legendX": 21, "legendY": -56, "symbolType": "diamond", "symbolSize": 400, "symbolStrokeColor": "black", "symbolStrokeWidth": 2, "labelFontSize": 16.5, "labelOffset": 10, "labelLimit": 400, "rowPadding": 3, "padding": 0}}}},
   {"data": {"values": [{"t": 14.0, "v": 0.46, "txt": "# #"}, {"t": 48.2, "v": 0.615, "txt": "# #"}, {"t": 81.0, "v": 0.615, "txt": "# #"}]}, "mark": {"type": "text", "fontSize": 16, "align": "center", "baseline": "middle"}, "encoding": {"text": {"field": "txt"}}},
   {"data": {"values": [{"t": -163.2, "v": 1.564, "txt": "C"}]}, "mark": {"type": "text", "font": "Liberation Sans", "fontWeight": "bold", "fontSize": 26, "align": "center", "baseline": "alphabetic"}, "encoding": {"text": {"field": "txt"}}}
  ]
 },
 {
  "width": 650, "height": 350,
  "data": {"name": "cap"},
  "encoding": {
   "x": {"datum": 0, "type": "quantitative", "scale": {"domain": [0.15077, 1.15077], "nice": false, "zero": false}, "axis": null},
   "y": {"field": "linea", "type": "quantitative", "scale": {"domain": [6.768, 21.291], "reverse": true, "nice": false, "zero": false}, "axis": null}
  },
  "layer": [
   {"transform": [{"filter": "datum.tipo === 'titulo'"}], "mark": {"type": "text", "align": "left", "baseline": "middle", "fontWeight": "bold", "fontSize": 17.5}, "encoding": {"text": {"field": "txt"}}},
   {"transform": [{"filter": "datum.pre"}], "mark": {"type": "text", "align": "left", "baseline": "middle", "fontWeight": "bold", "fontSize": 17.5}, "encoding": {"text": {"field": "pre"}}},
   {"transform": [{"filter": "datum.tipo === 'cuerpo' && !datum.pre"}], "mark": {"type": "text", "align": "left", "baseline": "middle", "fontSize": 17.5}, "encoding": {"text": {"field": "txt"}}},
   {"transform": [{"filter": "datum.tipo === 'cuerpo' && datum.pre"}], "mark": {"type": "text", "align": "left", "baseline": "middle", "fontSize": 17.5, "dx": 23}, "encoding": {"text": {"field": "txt"}}}
  ]
 }
]
}
